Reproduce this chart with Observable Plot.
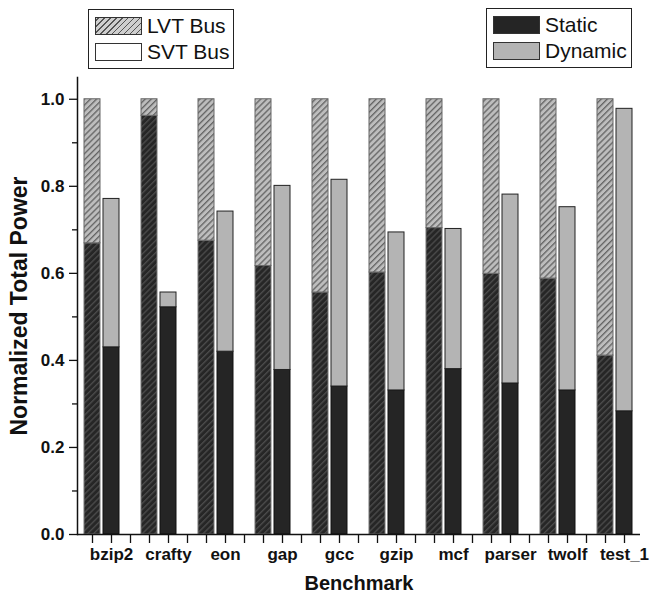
<!DOCTYPE html>
<html><head><meta charset="utf-8">
<script src="https://cdn.jsdelivr.net/npm/d3@7"></script>
<script src="https://cdn.jsdelivr.net/npm/@observablehq/plot@0.6"></script>
<style>
body{margin:0;background:#fff;font-family:"Liberation Sans",Arial,sans-serif}
#wrap{position:relative;width:652px;height:597px}
#wrap svg{position:absolute;left:0;top:0}
#wrap svg text{font-weight:bold}
.legend{position:absolute;border:1px solid #222;background:#fff;box-sizing:border-box}
.row{position:absolute;left:6px;display:flex;align-items:center;font-size:21px;color:#111;line-height:18px;white-space:nowrap}
.sw{width:47px;height:18px;border:1px solid #333;box-sizing:border-box;margin-right:5px}
.hatch{background:repeating-linear-gradient(-45deg,#cfcfcf 0 3px,#555 3px 4.2px)}
</style></head><body><div id="wrap"></div>
<script>
const benchmarks = ["bzip2","crafty","eon","gap","gcc","gzip","mcf","parser","twolf","test_1"];
const lvtStatic = [0.669,0.962,0.675,0.617,0.556,0.602,0.704,0.599,0.588,0.411];
const lvtTotal  = [1.0,1.0,1.0,1.0,1.0,1.0,1.0,1.0,1.0,1.0];
const svtStatic = [0.430,0.522,0.420,0.378,0.340,0.331,0.380,0.347,0.331,0.283];
const svtTotal  = [0.771,0.556,0.742,0.801,0.815,0.694,0.702,0.781,0.752,0.978];
const yTicks = [0.0,0.2,0.4,0.6,0.8,1.0];
const yMinorTicks = [0.1,0.3,0.5,0.7,0.9];
const busLegend = ["LVT Bus","SVT Bus"];
const partLegend = ["Static","Dynamic"];

// slots: LVT bar, SVT bar, gap (no trailing gap after last)
const slots = benchmarks.flatMap((b,i)=> i < benchmarks.length-1 ? [b+":LVT", b+":SVT", b+":gap"] : [b+":LVT", b+":SVT"]);
const lvtS = benchmarks.map((b,i)=>({slot:b+":LVT", y1:0, y2:lvtStatic[i]}));
const lvtD = benchmarks.map((b,i)=>({slot:b+":LVT", y1:lvtStatic[i], y2:lvtTotal[i]}));
const svtS = benchmarks.map((b,i)=>({slot:b+":SVT", y1:0, y2:svtStatic[i]}));
const svtD = benchmarks.map((b,i)=>({slot:b+":SVT", y1:svtStatic[i], y2:svtTotal[i]}));

const svg = Plot.plot({
  width:652, height:597,
  marginTop:77, marginBottom:63, marginLeft:77, marginRight:12,
  style:{fontFamily:"'Liberation Sans', Arial, sans-serif", color:"#111", background:"#fff", overflow:"visible"},
  x:{type:"band", domain:slots, padding:0.14, label:null},
  y:{domain:[0,1.05], label:null},
  marks:[
    Plot.barY(lvtS,{x:"slot", y1:"y1", y2:"y2", fill:"url(#hatchDark)", stroke:"#777", strokeWidth:1}),
    Plot.barY(lvtD,{x:"slot", y1:"y1", y2:"y2", fill:"url(#hatchLight)", stroke:"#666", strokeWidth:1}),
    Plot.barY(svtS,{x:"slot", y1:"y1", y2:"y2", fill:"#252525", stroke:"#111", strokeWidth:1}),
    Plot.barY(svtD,{x:"slot", y1:"y1", y2:"y2", fill:"#b4b4b4", stroke:"#222", strokeWidth:1}),
    Plot.axisX({tickSize:9, tickPadding:4, fontSize:17, stroke:"#111", strokeWidth:1.3,
      tickFormat:d=> d.endsWith(":SVT") ? d.split(":")[0] : "", label:null}),
    Plot.axisY({ticks:yTicks, tickSize:8, tickPadding:5, fontSize:17, tickFormat:d3.format(".1f"), stroke:"#111", strokeWidth:1.3, label:null}),
    Plot.axisY({ticks:yMinorTicks, tickSize:5, tickFormat:()=>"", stroke:"#111", strokeWidth:1.3, label:null}),
    Plot.ruleY([0],{stroke:"#111", strokeWidth:1.5}),
    Plot.frame({anchor:"left", stroke:"#111", strokeWidth:1.5}),
    Plot.text(["Normalized Total Power"],{frameAnchor:"left", textAnchor:"middle", rotate:-90, dx:-58, fontSize:23, fill:"#111"}),
    Plot.text(["Benchmark"],{frameAnchor:"bottom", dy:55, fontSize:20, fill:"#111"})
  ]
});
svg.insertAdjacentHTML("afterbegin",
 `<defs>
  <pattern id="hatchLight" patternUnits="userSpaceOnUse" width="4.3" height="4.3" patternTransform="rotate(45)">
   <rect width="4.3" height="4.3" fill="#bdbdbd"/><line x1="0.7" y1="0" x2="0.7" y2="4.3" stroke="#5a5a5a" stroke-width="1.2"/>
  </pattern>
  <pattern id="hatchDark" patternUnits="userSpaceOnUse" width="4.3" height="4.3" patternTransform="rotate(45)">
   <rect width="4.3" height="4.3" fill="#262626"/><line x1="0.7" y1="0" x2="0.7" y2="4.3" stroke="#505050" stroke-width="1.2"/>
  </pattern>
 </defs>`);
const wrap = document.getElementById("wrap");
wrap.appendChild(svg);

function legend(left, top, items, swClasses){
  const box = document.createElement("div");
  box.className = "legend";
  Object.assign(box.style,{left:left+"px", top:top+"px", width:"146px", height:"60px"});
  items.forEach((t,i)=>{
    const r = document.createElement("div");
    r.className = "row";
    r.style.top = (7 + i*26)+"px";
    const sw = document.createElement("div");
    sw.className = "sw " + swClasses[i].cls;
    if (swClasses[i].bg) sw.style.background = swClasses[i].bg;
    r.appendChild(sw);
    const s = document.createElement("span");
    s.textContent = t;
    r.appendChild(s);
    box.appendChild(r);
  });
  wrap.appendChild(box);
}
legend(88, 9, busLegend, [{cls:"hatch"},{cls:"", bg:"#fff"}]);
legend(486, 8, partLegend, [{cls:"", bg:"#252525"},{cls:"", bg:"#b4b4b4"}]);
</script></body></html>
